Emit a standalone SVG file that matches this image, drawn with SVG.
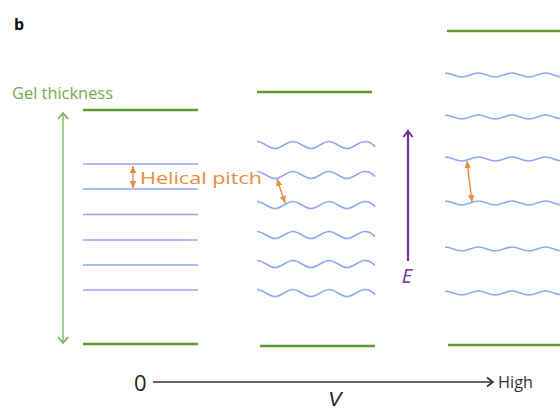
<svg xmlns="http://www.w3.org/2000/svg" width="560" height="411" viewBox="0 0 560 411">
<style>
.gl{stroke:#5b9b32;stroke-width:2.6;fill:none}
.bl{stroke:#8eaaf7;stroke-width:1.5;fill:none}
.wv{stroke:#8eaaf7;stroke-width:1.6;fill:none}
.or{stroke:#ee8a3c;stroke-width:1.4;fill:none}
.t{font-family:"Open Sans","Liberation Sans",sans-serif}
</style>
<defs>
<marker id="chevG" markerUnits="userSpaceOnUse" markerWidth="12" markerHeight="12" viewBox="0 0 12 12" refX="10" refY="6" orient="auto-start-reverse">
<path d="M4,1 L10,6 L4,11" fill="none" stroke="#7db55a" stroke-width="1.8"/>
</marker>
<marker id="chevP" markerUnits="userSpaceOnUse" markerWidth="12" markerHeight="12" viewBox="0 0 12 12" refX="10" refY="6" orient="auto">
<path d="M4,1.5 L10,6 L4,10.5" fill="none" stroke="#7a2f9e" stroke-width="2"/>
</marker>
<marker id="chevK" markerUnits="userSpaceOnUse" markerWidth="12" markerHeight="12" viewBox="0 0 12 12" refX="10" refY="6" orient="auto">
<path d="M4,1.5 L10,6 L4,10.5" fill="none" stroke="#333" stroke-width="1.6"/>
</marker>
<marker id="triO" markerUnits="userSpaceOnUse" markerWidth="8" markerHeight="8" viewBox="0 0 8 8" refX="7" refY="4" orient="auto-start-reverse">
<path d="M0,0.8 L7,4 L0,7.2 Z" fill="#ee8a3c"/>
</marker>
<path id="w2" d="M0,-3.5 C6.5,-3.5 11.5,3.5 18,3.5 S29.5,-3.5 36,-3.5 S47.5,3.5 54,3.5 S65.5,-3.5 72,-3.5 S83.5,3.5 90,3.5 S101.5,-3.5 108,-3.5 S115,-0.5 118,1.5"/>
<path id="w3" d="M0,-2 C6.1,-2 10.65,2 16.75,2 S27.4,-2 33.5,-2 S44.15,2 50.25,2 S60.9,-2 67,-2 S77.65,2 83.75,2 S94.4,-2 100.5,-2 S111.15,2 117.25,2"/>
</defs>

<text class="t" x="14" y="30" font-size="16" font-weight="bold" fill="#111">b</text>

<g id="panel-low">
<line class="gl" x1="83" y1="110" x2="198" y2="110"/>
<line class="bl" x1="83" y1="164" x2="198" y2="164"/>
<line class="bl" x1="83" y1="189" x2="198" y2="189"/>
<line class="bl" x1="83" y1="214.5" x2="198" y2="214.5"/>
<line class="bl" x1="83" y1="240" x2="198" y2="240"/>
<line class="bl" x1="83" y1="265" x2="198" y2="265"/>
<line class="bl" x1="83" y1="290" x2="198" y2="290"/>
<line class="gl" x1="83" y1="344" x2="198" y2="344"/>
</g>

<g id="panel-mid">
<line class="gl" x1="257" y1="92" x2="372" y2="92"/>
<use href="#w2" class="wv" x="257" y="145"/>
<use href="#w2" class="wv" x="257" y="175"/>
<use href="#w2" class="wv" x="257" y="205"/>
<use href="#w2" class="wv" x="257" y="235"/>
<use href="#w2" class="wv" x="257" y="264"/>
<use href="#w2" class="wv" x="257" y="293"/>
<line class="gl" x1="260" y1="346" x2="375" y2="346"/>
</g>

<g id="panel-high">
<line class="gl" x1="447" y1="31" x2="560" y2="31"/>
<use href="#w3" class="wv" x="445" y="75"/>
<use href="#w3" class="wv" x="445" y="117"/>
<use href="#w3" class="wv" x="445" y="159"/>
<use href="#w3" class="wv" x="445" y="203"/>
<use href="#w3" class="wv" x="445" y="249"/>
<use href="#w3" class="wv" x="445" y="293"/>
<line class="gl" x1="448" y1="345" x2="560" y2="345"/>
</g>

<g id="gel-thickness">
<text class="t" x="12" y="99" font-size="16.5" fill="#70ad47" textLength="101" lengthAdjust="spacingAndGlyphs">Gel thickness</text>
</g>

<g id="helical-pitch-label">
<text class="t" x="140" y="184" font-size="17" fill="#ee8a3c" textLength="122" lengthAdjust="spacingAndGlyphs">Helical pitch</text>
</g>

<g id="E-label">
<text class="t" x="407" y="283" font-size="20" font-style="italic" fill="#7a2f9e" text-anchor="middle">E</text>
</g>

<g id="axis-labels">
<text class="t" x="134" y="391" font-size="22" fill="#222">0</text>
<text class="t" x="498" y="388" font-size="15.5" fill="#333" textLength="35" lengthAdjust="spacingAndGlyphs">High</text>
<text x="335" y="406" font-family="'Liberation Sans',sans-serif" font-size="20" font-style="italic" fill="#222" text-anchor="middle">V</text>
</g>

<g id="connectors">
<line x1="63" y1="113" x2="63" y2="343" stroke="#9bcc7c" stroke-width="1.8" marker-start="url(#chevG)" marker-end="url(#chevG)"/>
<line class="or" x1="133" y1="166" x2="133" y2="188" marker-start="url(#triO)" marker-end="url(#triO)"/>
<line class="or" x1="277" y1="179" x2="285" y2="203" marker-start="url(#triO)" marker-end="url(#triO)"/>
<line class="or" x1="467" y1="161" x2="472" y2="202" marker-start="url(#triO)" marker-end="url(#triO)"/>
<line x1="408" y1="261" x2="408" y2="131" stroke="#7a2f9e" stroke-width="2.2" marker-end="url(#chevP)"/>
<line x1="153" y1="382" x2="493" y2="382" stroke="#333" stroke-width="1.6" marker-end="url(#chevK)"/>
</g>
</svg>
